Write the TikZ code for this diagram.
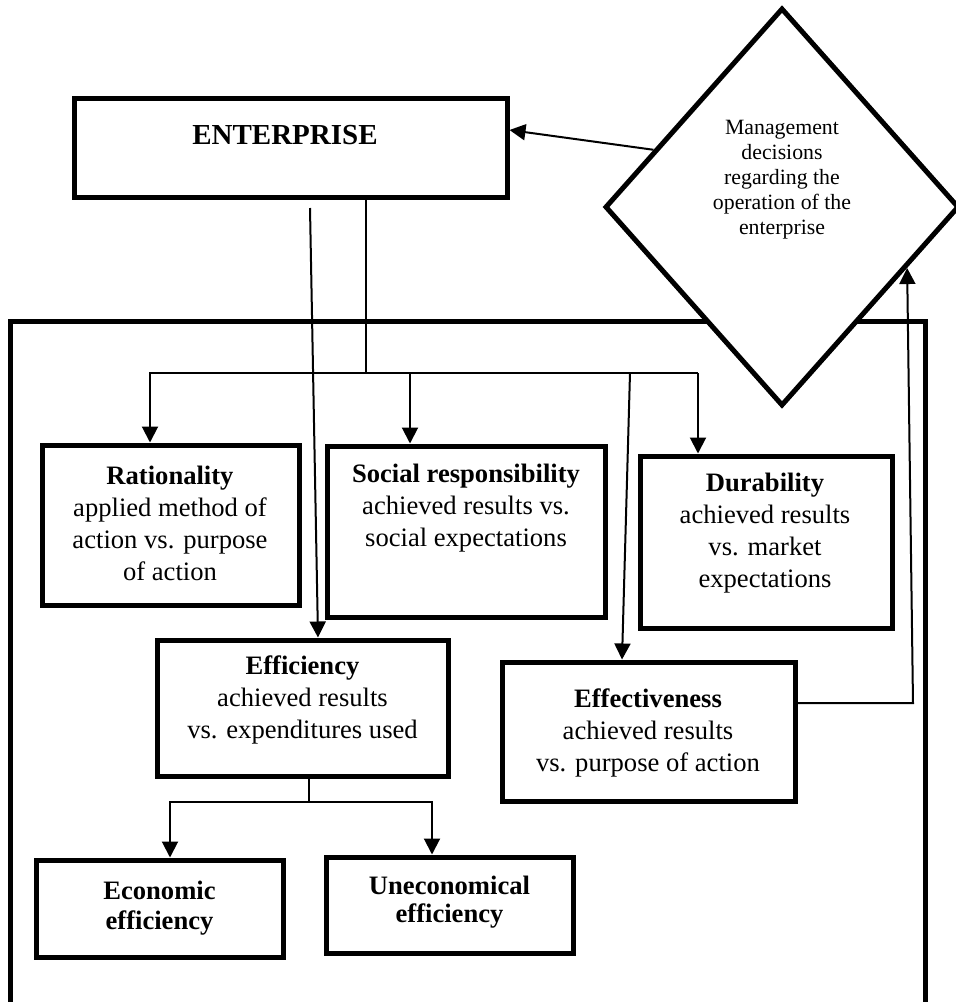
\documentclass[tikz,border=0pt]{standalone}
\usepackage{fontspec}
\setmainfont{Liberation Serif}
\usetikzlibrary{shapes.geometric,arrows.meta}

\begin{document}
\begin{tikzpicture}[x=0.5pt,y=-0.5pt,
  box/.style={shape=rectangle, draw=black, line width=2.5pt, inner sep=0pt},
  txt/.style={shape=rectangle, draw=none, align=center, font=\fontsize{13.3}{16}\selectfont},
  wire/.style={line width=1pt},
  conn/.style={line width=1pt, -{Triangle[length=8pt,width=8pt]}}]
%%%%%%%%%%%%%%%%%%%%%%%%%%%%%%%%%%%%%%%%%%% HELP LINES
%\draw[help lines] (0,0) grid[step=50] (955,1002);
\useasboundingbox (0,0) rectangle (955,1002);

%%%%%%%%%%%%%%%%%%%%%%%%%%%%%%%%%%%%%%%%%%% frame and decision
\draw[line width=2.5pt] (10,1004) -- (10,321) -- (925,321) -- (925,1004);
\node[shape=diamond, draw=black, fill=white, line width=2.5pt, inner sep=0pt, minimum width=177pt, minimum height=199pt](dia) at (782,207){};
\node[txt, font=\fontsize{10.9}{12.5}\selectfont](dia-txt) at (782,180){Management\\decisions\\regarding the\\operation of the\\enterprise};

%%%%%%%%%%%%%%%%%%%%%%%%%%%%%%%%%%%%%%%%%%% elements
\node[box, minimum width=216.5pt, minimum height=49.5pt](ent) at (290.5,147.5){};
\node[txt, font=\fontsize{14.5}{17}\selectfont\bfseries](ent-txt) at (285,135){ENTERPRISE};

\node[box, minimum width=128.5pt, minimum height=80pt](rat) at (170.5,525){};
\node[txt](rat-txt) at (170,523){\textbf{Rationality}\\applied method of\\action vs. purpose\\of action};

\node[box, minimum width=139pt, minimum height=85.5pt](soc) at (466,531.5){};
\node[txt](soc-txt) at (466,508){\textbf{Social responsibility}\\achieved results vs.\\social expectations};

\node[box, minimum width=126pt, minimum height=86pt](dur) at (766,542){};
\node[txt](dur-txt) at (765,533){\textbf{Durability}\\achieved results\\vs. market\\expectations};

\node[box, minimum width=145.5pt, minimum height=68pt](eff) at (302.5,708){};
\node[txt](eff-txt) at (302.5,700){\textbf{Efficiency}\\achieved results\\vs. expenditures used};

\node[box, minimum width=146.5pt, minimum height=69.5pt](efv) at (648.5,731.5){};
\node[txt](efv-txt) at (648,733){\textbf{Effectiveness}\\achieved results\\vs. purpose of action};

\node[box, minimum width=123.5pt, minimum height=48.5pt](eco) at (159.5,908.5){};
\node[txt, font=\fontsize{13.3}{15}\selectfont\bfseries](eco-txt) at (159.5,908){Economic\\efficiency};

\node[box, minimum width=123.5pt, minimum height=48pt](une) at (449.5,905){};
\node[txt, font=\fontsize{13.3}{14}\selectfont\bfseries](une-txt) at (449.5,902){Uneconomical\\efficiency};

%%%%%%%%%%%%%%%%%%%%%%%%%%%%%%%%%%%%%%%%%%% connectors
\coordinate (bus-l) at (150,373);
\coordinate (bus-m) at (366,373);
\coordinate (bus-s) at (410,373);
\coordinate (bus-e) at (630,373);
\coordinate (bus-r) at (698,373);
\draw[wire] (ent.south -| bus-m) -- (bus-m);
\draw[conn] (bus-r) -- (bus-l) -- (bus-l |- rat.north);
\draw[conn] (bus-s) -- (bus-s |- soc.north);
\draw[conn] (bus-r) -- (bus-r |- dur.north);

\coordinate (eff-src) at (310,208);
\draw[conn] (eff-src) -- ([xshift=7.75pt]eff.north);
\draw[conn] (bus-e) -- ([xshift=-13.25pt]efv.north);

\coordinate (br-m) at (309,802);
\coordinate (br-l) at (170,802);
\coordinate (br-r) at (432,802);
\draw[wire] ([xshift=3.25pt]eff.south) -- (br-m);
\draw[conn] (br-m) -- (br-l) -- (br-l |- eco.north);
\draw[conn] (br-m) -- (br-r) -- (br-r |- une.north);

%%%%% feedback to the decision
\coordinate (fb) at (913,703);
\draw[conn] ([yshift=14.25pt]efv.east) -- (fb) -- (dia.-26.4);
\draw[conn] (dia.156) -- ([yshift=8.75pt]ent.east);
\end{tikzpicture}
\end{document}
